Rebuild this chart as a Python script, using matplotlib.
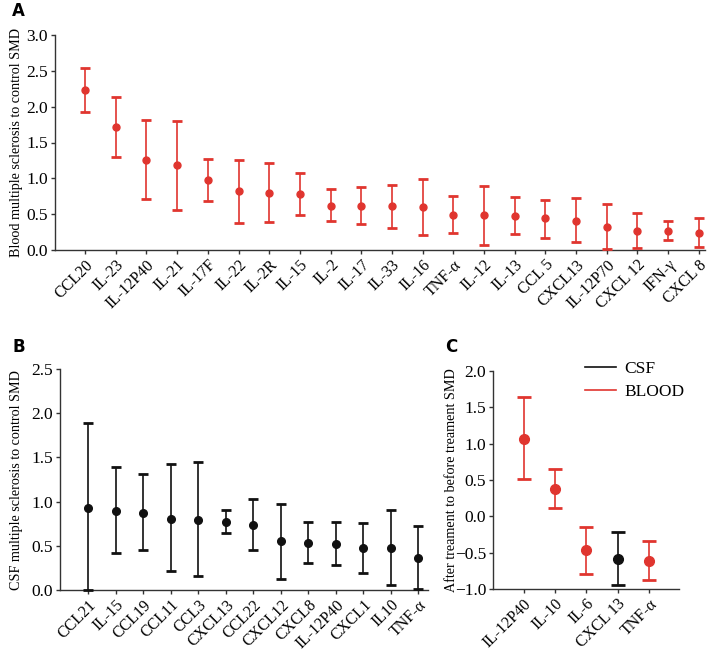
import matplotlib
matplotlib.use('Agg')
import matplotlib.pyplot as plt
from matplotlib.lines import Line2D

# Panel A: blood, MS vs control
blood_names = ["CCL20", "IL-23", "IL-12P40", "IL-21", "IL-17F", "IL-22", "IL-2R", "IL-15",
               "IL-2", "IL-17", "IL-33", "IL-16", "TNF-α", "IL-12", "IL-13", "CCL 5",
               "CXCL13", "IL-12P70", "CXCL 12", "IFN-γ", "CXCL 8"]
blood_smd = [2.23, 1.71, 1.26, 1.18, 0.97, 0.82, 0.80, 0.78, 0.62, 0.62, 0.61, 0.60, 0.49,
             0.49, 0.48, 0.44, 0.41, 0.32, 0.27, 0.27, 0.24]
blood_hi = [2.54, 2.13, 1.82, 1.80, 1.27, 1.26, 1.21, 1.07, 0.85, 0.88, 0.91, 0.99, 0.75,
            0.90, 0.74, 0.70, 0.72, 0.64, 0.51, 0.40, 0.44]
blood_lo = [1.92, 1.30, 0.71, 0.56, 0.69, 0.38, 0.39, 0.49, 0.41, 0.36, 0.31, 0.21, 0.24,
            0.07, 0.22, 0.17, 0.11, 0.02, 0.03, 0.14, 0.04]

# Panel B: CSF, MS vs control
csf_names = ["CCL21", "IL-15", "CCL19", "CCL11", "CCL3", "CXCL13", "CCL22", "CXCL12",
             "CXCL8", "IL-12P40", "CXCL1", "IL10", "TNF-α"]
csf_smd = [0.93, 0.89, 0.87, 0.80, 0.79, 0.77, 0.73, 0.55, 0.53, 0.52, 0.47, 0.47, 0.36]
csf_hi = [1.89, 1.39, 1.31, 1.42, 1.45, 0.91, 1.03, 0.97, 0.77, 0.77, 0.76, 0.90, 0.72]
csf_lo = [0.00, 0.42, 0.45, 0.21, 0.16, 0.65, 0.45, 0.13, 0.30, 0.28, 0.19, 0.06, 0.01]

# Panel C: after vs before treatment
treat_names = ["IL-12P40", "IL-10", "IL-6", "CXCL 13", "TNF-α"]
treat_smd = [1.07, 0.37, -0.47, -0.59, -0.61]
treat_hi = [1.64, 0.65, -0.14, -0.22, -0.34]
treat_lo = [0.51, 0.11, -0.80, -0.94, -0.88]
treat_src = ["BLOOD", "BLOOD", "BLOOD", "CSF", "BLOOD"]

RED = '#e0352f'
BLACK = '#111111'

plt.rcParams['font.family'] = ['Liberation Serif', 'DejaVu Serif']
plt.rcParams['mathtext.fontset'] = 'stix'

W, H = 709, 653
fig = plt.figure(figsize=(W / 100, H / 100), dpi=100)


def px_axes(x0, y0, x1, y1):
    return fig.add_axes([x0 / W, 1 - y1 / H, (x1 - x0) / W, (y1 - y0) / H])


def style(ax):
    for s in ['top', 'right']:
        ax.spines[s].set_visible(False)
    for s in ['left', 'bottom']:
        ax.spines[s].set_color('#333333')
        ax.spines[s].set_linewidth(1.0)
    ax.tick_params(direction='out', length=3, width=1, color='#333333', pad=2)
    ax.tick_params(axis='y', labelsize=12.5)
    ax.tick_params(axis='x', labelsize=11.5)


def draw(ax, names, vals, hi, lo, colors, ms, cap):
    xs = list(range(len(names)))
    for i, (v, h, l, c) in enumerate(zip(vals, hi, lo, colors)):
        ax.errorbar(xs[i], v, yerr=[[v - l], [h - v]], fmt='o', color=c, ecolor=c,
                    ms=ms, elinewidth=1.2, capsize=cap, capthick=2, clip_on=False, zorder=3)
    ax.set_xticks(xs)
    ax.set_xticklabels(names, rotation=45, ha='right', rotation_mode='anchor')


# A
axA = px_axes(55, 35, 705, 250)
style(axA)
draw(axA, blood_names, blood_smd, blood_hi, blood_lo, [RED] * len(blood_names), 5, 3.5)
axA.set_xlim(-0.98, 20.2)
axA.set_ylim(0, 3.0)
axA.set_yticks([0, 0.5, 1.0, 1.5, 2.0, 2.5, 3.0])
axA.set_ylabel("Blood multiple sclerosis to control SMD", fontsize=10.2)
axA.yaxis.set_label_coords(-0.049, 0.5)

# B
axB = px_axes(60, 369, 428, 590)
style(axB)
draw(axB, csf_names, csf_smd, csf_hi, csf_lo, [BLACK] * len(csf_names), 5.5, 3.5)
axB.set_xlim(-1.03, 12.35)
axB.set_ylim(0, 2.5)
axB.set_yticks([0, 0.5, 1.0, 1.5, 2.0, 2.5])
axB.set_ylabel("CSF multiple sclerosis to control SMD", fontsize=10.2)
axB.yaxis.set_label_coords(-0.10, 0.5)

# C
axC = px_axes(493, 371, 679, 589)
style(axC)
cmap = {"BLOOD": RED, "CSF": BLACK}
draw(axC, treat_names, treat_smd, treat_hi, treat_lo, [cmap[s] for s in treat_src], 7, 5)
axC.set_xlim(-0.98, 4.96)
axC.set_ylim(-1.0, 2.0)
axC.set_yticks([-1.0, -0.5, 0.0, 0.5, 1.0, 1.5, 2.0])
axC.set_ylabel("After treament to before treament SMD", fontsize=10.2)
axC.yaxis.set_label_coords(-0.19, 0.5)
handles = [Line2D([], [], color=BLACK, lw=1.2), Line2D([], [], color=RED, lw=1.2)]
axC.legend(handles, ["CSF", "BLOOD"], loc='upper left', bbox_to_anchor=(0.495, 1.045),
           frameon=False, fontsize=12.5, handlelength=1.8, handletextpad=0.45,
           labelspacing=0.4, borderpad=0, borderaxespad=0)

# panel letters
for lab, x, y in [("A", 12, 11), ("B", 12, 347), ("C", 445, 347)]:
    fig.text(x / W, 1 - y / H, lab, family='DejaVu Sans', fontweight='bold', fontsize=12,
             va='center')

fig.savefig('out.png', dpi=100)
